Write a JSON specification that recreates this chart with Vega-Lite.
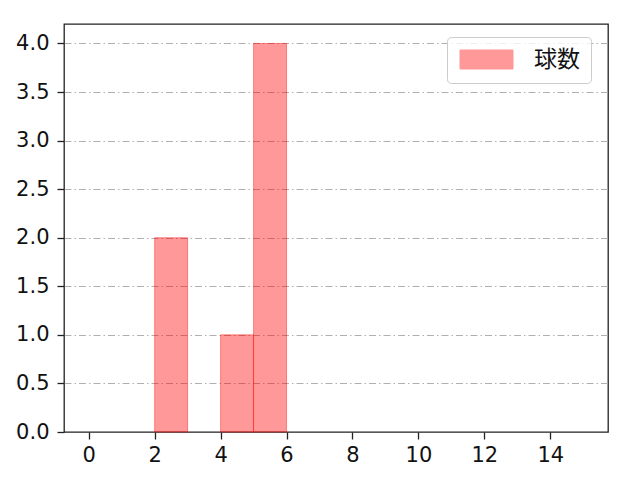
{
  "$schema": "https://vega.github.io/schema/vega-lite/v6.json",
  "width": 544,
  "height": 408,
  "autosize": {"type": "none"},
  "padding": {"left": 64, "top": 24, "right": 32, "bottom": 48},
  "background": "white",
  "config": {
    "font": "DejaVu Sans",
    "view": {"stroke": "#222222", "strokeWidth": 1.3},
    "axis": {
      "labelFont": "DejaVu Sans",
      "labelFontSize": 21,
      "labelColor": "#111111",
      "tickColor": "#222222",
      "tickSize": 7,
      "tickWidth": 1.3,
      "domain": false,
      "title": null
    },
    "legend": {
      "labelFont": "Noto Sans CJK JP",
      "labelFontSize": 23,
      "labelColor": "#111111"
    }
  },
  "data": {
    "values": [
      {"bin_start": 2, "bin_end": 3, "count": 2, "series": "球数"},
      {"bin_start": 4, "bin_end": 5, "count": 1, "series": "球数"},
      {"bin_start": 5, "bin_end": 6, "count": 4, "series": "球数"}
    ]
  },
  "mark": {
    "type": "bar",
    "orient": "vertical",
    "fillOpacity": 0.4,
    "stroke": "red",
    "strokeOpacity": 0.4,
    "strokeWidth": 1
  },
  "encoding": {
    "x": {
      "field": "bin_start",
      "type": "quantitative",
      "scale": {"domain": [-0.75, 15.75], "nice": false, "zero": false, "padding": 0},
      "axis": {"values": [0, 2, 4, 6, 8, 10, 12, 14], "grid": false, "labelPadding": 5, "labelFlush": false}
    },
    "x2": {"field": "bin_end"},
    "y": {
      "field": "count",
      "type": "quantitative",
      "scale": {"domain": [0, 4.2], "nice": false, "padding": 0},
      "axis": {
        "values": [0, 0.5, 1, 1.5, 2, 2.5, 3, 3.5, 4],
        "format": ".1f",
        "grid": true,
        "gridColor": "#b0b0b0",
        "gridWidth": 1,
        "gridOpacity": {"condition": {"test": "datum.value === 0", "value": 0}, "value": 1},
        "gridDash": [7, 3, 1.5, 3],
        "labelPadding": 8,
        "labelFlush": false
      }
    },
    "y2": {"datum": 0},
    "color": {
      "field": "series",
      "type": "nominal",
      "scale": {"range": ["red"]},
      "legend": {
        "title": null,
        "orient": "none",
        "legendX": 383,
        "legendY": 13,
        "padding": 11,
        "symbolType": "M-1,-1L4.58,-1L4.58,1L-1,1Z",
        "symbolSize": 361,
        "symbolFillColor": "red",
        "symbolOpacity": 0.4,
        "symbolStrokeColor": "red",
        "symbolStrokeWidth": 1,
        "labelOffset": 53,
        "fillColor": "rgba(255,255,255,0.8)",
        "strokeColor": "#cccccc",
        "cornerRadius": 4
      }
    }
  }
}
